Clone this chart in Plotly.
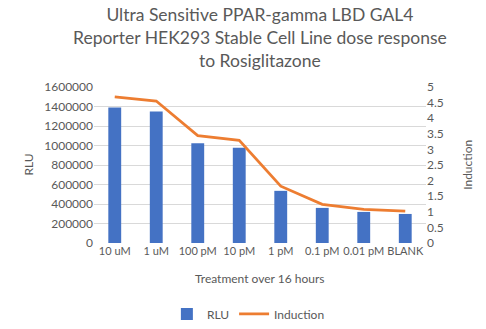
import plotly.graph_objects as go

categories = ["10 uM", "1 uM", "100 pM", "10 pM", "1 pM", "0.1 pM", "0.01 pM", "BLANK"]
rlu = [1390000, 1349000, 1023000, 978000, 535000, 360000, 319000, 298000]
induction = [4.68, 4.55, 3.44, 3.29, 1.82, 1.24, 1.08, 1.02]
left_ticks = [0, 200000, 400000, 600000, 800000, 1000000, 1200000, 1400000, 1600000]
right_ticks = [0, 0.5, 1, 1.5, 2, 2.5, 3, 3.5, 4, 4.5, 5]
right_labels = ["0", "0.5", "1", "1.5", "2", "2.5", "3", "3.5", "4", "4.5", "5"]

FONT = "Lato, Carlito, 'Open Sans', sans-serif"
GRAY = "#595959"

fig = go.Figure()
fig.add_trace(go.Bar(x=categories, y=rlu, name="RLU", marker_color="#4472C4",
                     marker_line_width=0, yaxis="y"))
fig.add_trace(go.Scatter(x=categories, y=induction, name="Induction", mode="lines",
                         line=dict(color="#ED7D31", width=2.75), yaxis="y2"))

fig.update_layout(
    width=486, height=329,
    margin=dict(l=94, r=60, t=87, b=86, autoexpand=False),
    paper_bgcolor="white", plot_bgcolor="white",
    font=dict(family=FONT, color=GRAY, size=12),
    bargap=0.69,
    xaxis=dict(type="category", showline=False, ticks="", tickangle=0, automargin=False,
               tickfont=dict(size=11, color=GRAY), showgrid=False),
    yaxis=dict(range=[0, 1600000], tickvals=left_ticks, ticktext=[str(v) for v in left_ticks],
               showgrid=True, gridcolor="#d9d9d9", gridwidth=1, zeroline=False, automargin=False,
               tickfont=dict(size=12, color=GRAY), ticks="", showline=False),
    yaxis2=dict(range=[0, 5], tickvals=right_ticks, ticktext=right_labels, overlaying="y",
                side="right", showgrid=False, zeroline=False, ticks="", showline=False,
                automargin=False, tickfont=dict(size=12, color=GRAY)),
    legend=dict(orientation="h", x=0.465, xanchor="center", y=-0.455, yanchor="middle",
                font=dict(size=12, color=GRAY), itemwidth=30, bgcolor="rgba(0,0,0,0)"),
    annotations=[
        dict(text="Ultra Sensitive PPAR-gamma LBD GAL4<br>Reporter HEK293 Stable Cell Line dose response<br>to Rosiglitazone",
             xref="paper", yref="paper", x=0.5, y=1.548, xanchor="center", yanchor="top",
             showarrow=False, font=dict(family=FONT, size=17.5, color=GRAY)),
        dict(text="Treatment over 16 hours", xref="paper", yref="paper", x=0.5, y=-0.23,
             xanchor="center", yanchor="middle", showarrow=False, font=dict(size=12, color=GRAY)),
        dict(text="RLU", xref="paper", yref="paper", x=-0.2, y=0.5, textangle=-90,
             xanchor="center", yanchor="middle", showarrow=False, font=dict(size=12, color=GRAY)),
        dict(text="Induction", xref="paper", yref="paper", x=1.123, y=0.5, textangle=-90,
             xanchor="center", yanchor="middle", showarrow=False, font=dict(size=12, color=GRAY)),
    ],
)

fig.write_html("out.html")
